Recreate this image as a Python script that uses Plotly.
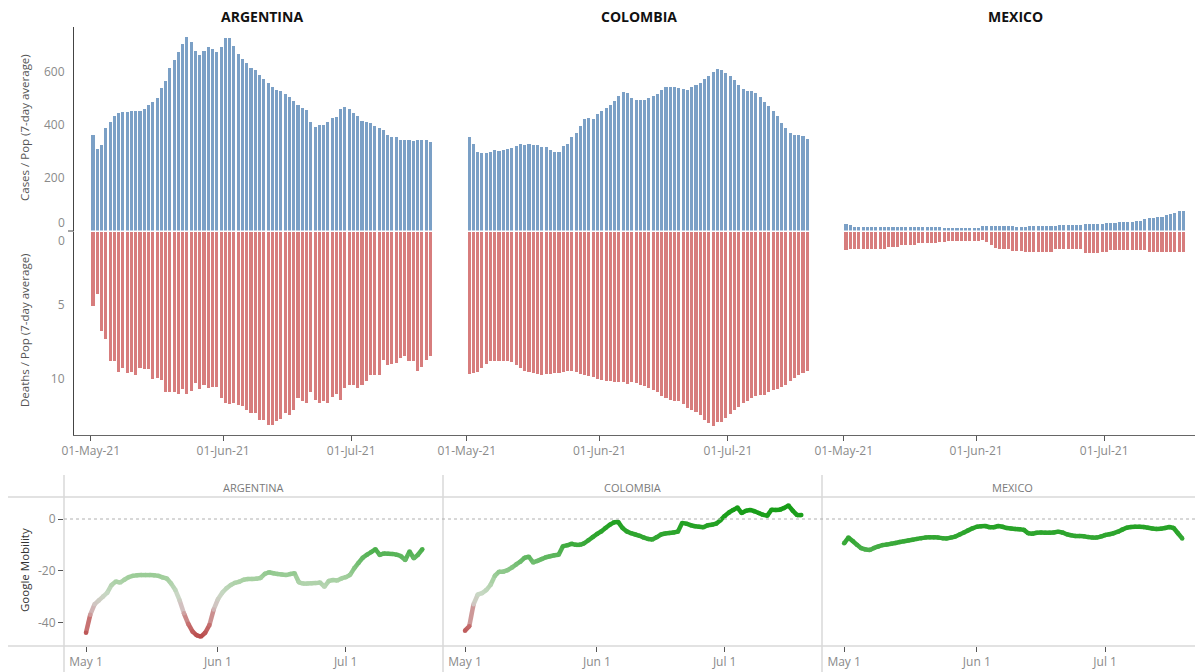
import numpy as np
import pandas as pd
import plotly.graph_objects as go

W, H = 1203, 672
# the page puts the figure 8px in from the top-left corner
OX, OY = 8, 8

# ---- data -----------------------------------------------------------------
countries = ["ARGENTINA", "COLOMBIA", "MEXICO"]
dates = pd.date_range("2021-05-01", periods=80, freq="D")
month_ticks = ["2021-05-01", "2021-06-01", "2021-07-01"]

arg_cases = [362, 306, 321, 385, 411, 431, 443, 447, 447, 450,
             450, 450, 459, 472, 486, 501, 538, 566, 614, 644,
             673, 703, 730, 711, 676, 664, 679, 692, 686, 673,
             692, 726, 726, 696, 668, 649, 634, 615, 604, 585,
             572, 557, 542, 530, 525, 516, 503, 488, 472, 463,
             454, 411, 392, 400, 400, 411, 425, 429, 459, 467,
             457, 442, 431, 414, 409, 404, 396, 386, 381, 360,
             352, 352, 343, 340, 340, 337, 343, 343, 340, 333]
col_cases = [352, 328, 296, 291, 291, 296, 302, 299, 303, 308,
             311, 318, 325, 322, 328, 321, 321, 315, 315, 303,
             298, 298, 318, 328, 352, 369, 394, 421, 425, 421,
             438, 450, 463, 472, 488, 509, 523, 519, 501, 494,
             494, 494, 501, 509, 516, 532, 542, 542, 542, 538,
             535, 532, 542, 548, 557, 570, 582, 598, 610, 604,
             595, 582, 567, 551, 535, 528, 528, 519, 503, 486,
             469, 450, 431, 404, 387, 369, 359, 359, 356, 347]
mex_cases = [26, 20, 14, 14, 14, 14, 14, 14, 14, 14,
             14, 14, 12, 12, 14, 14, 14, 14, 14, 14,
             14, 14, 14, 11, 11, 11, 11, 11, 11, 11,
             11, 11, 16, 16, 16, 16, 16, 16, 16, 16,
             14, 14, 14, 18, 18, 18, 18, 18, 18, 18,
             21, 21, 21, 21, 21, 21, 25, 25, 25, 25,
             25, 29, 29, 29, 33, 33, 33, 33, 37, 37,
             42, 48, 48, 52, 52, 57, 62, 67, 72, 72]

arg_deaths = [5.0, 4.2, 6.75, 7.3, 8.75, 8.75, 9.5, 9.25, 9.6, 9.5,
              9.7, 9.25, 9.35, 9.35, 10.0, 9.9, 10.05, 10.85, 10.85, 10.85,
              11.05, 10.7, 11.05, 10.8, 10.3, 10.7, 10.4, 10.6, 10.55, 10.55,
              11.3, 11.6, 11.7, 11.65, 11.75, 11.8, 12.1, 12.3, 12.3, 12.8,
              12.8, 13.15, 13.1, 12.85, 12.7, 12.3, 12.45, 12.1, 11.3, 11.5,
              11.6, 10.85, 11.4, 11.65, 11.5, 11.65, 11.2, 11.05, 11.4, 10.6,
              10.4, 10.4, 10.6, 10.4, 10.15, 9.75, 9.75, 9.75, 8.7, 9.05,
              9.0, 8.9, 8.55, 8.45, 8.8, 8.8, 9.45, 9.15, 8.7, 8.45]
col_deaths = [9.66, 9.59, 9.52, 9.25, 8.98, 8.8, 8.75, 8.75, 8.75, 8.8,
              8.86, 9.07, 9.25, 9.43, 9.52, 9.59, 9.66, 9.75, 9.66, 9.66,
              9.61, 9.59, 9.52, 9.43, 9.43, 9.52, 9.66, 9.75, 9.82, 9.89,
              9.98, 10.05, 10.11, 10.16, 10.21, 10.21, 10.23, 10.34, 10.21, 10.27,
              10.39, 10.5, 10.61, 10.73, 10.89, 11.18, 11.3, 11.41, 11.48, 11.52,
              11.71, 11.98, 12.09, 12.25, 12.43, 12.77, 12.96, 13.16, 12.93, 12.89,
              12.66, 12.39, 12.09, 11.87, 11.64, 11.46, 11.3, 11.18, 11.11, 11.07,
              10.89, 10.73, 10.66, 10.57, 10.39, 10.16, 9.93, 9.75, 9.59, 9.48]
mex_deaths = [1.25, 1.13, 1.13, 1.13, 1.13, 1.13, 1.13, 1.13, 1.13, 1.13,
              1.02, 1.02, 1.02, 0.86, 0.86, 0.86, 0.86, 0.75, 0.75, 0.75,
              0.75, 0.75, 0.68, 0.68, 0.61, 0.61, 0.61, 0.61, 0.61, 0.61,
              0.61, 0.61, 0.52, 0.68, 0.91, 1.07, 1.13, 1.13, 1.13, 1.29,
              1.29, 1.29, 1.38, 1.38, 1.38, 1.38, 1.38, 1.38, 1.38, 1.13,
              1.13, 1.13, 1.13, 1.13, 1.13, 1.13, 1.43, 1.43, 1.43, 1.43,
              1.36, 1.36, 1.2, 1.2, 1.2, 1.2, 1.2, 1.2, 1.25, 1.25,
              1.25, 1.38, 1.38, 1.38, 1.38, 1.38, 1.38, 1.38, 1.38, 1.38]

arg_mob = [-44, -37, -33, -31.5, -30, -28.5, -25.5, -24.2, -24.6, -23.5,
           -22.5, -22, -21.8, -21.7, -21.7, -21.7, -21.8, -22, -22.6, -23,
           -25, -27.5, -31.5, -36.5, -40.5, -43.5, -45, -45.5, -44, -41,
           -35, -31, -28.5, -26.8, -25.5, -24.7, -24.3, -23.5, -23.2, -23.2,
           -23.1, -22.8, -21.2, -20.6, -21, -21.3, -21.5, -21.7, -21.3, -21,
           -24.5, -25, -25, -24.9, -24.8, -24.6, -26.2, -24, -23.6, -23.8,
           -23, -22.5, -21.7, -19.1, -17, -15, -13.8, -12.8, -11.7, -13.9,
           -13.3, -13.4, -13.5, -13.8, -14.4, -15.9, -12.6, -15.2, -13.8, -11.7]
col_mob = [-43.2, -41.5, -33, -29.2, -28.7, -27.5, -25.5, -22, -20.4, -20.4,
           -19.8, -18.8, -17.6, -16.5, -15, -14.6, -16.8, -16.2, -15.5, -14.8,
           -14.4, -14, -13.8, -10.5, -10.2, -9.6, -10, -10, -9.4, -8.2,
           -7, -5.8, -4.8, -3.5, -2.2, -1.3, -1.2, -3.5, -4.8, -5.5,
           -6, -6.5, -7.2, -7.7, -7.9, -7.1, -6, -5.6, -5.4, -5.2,
           -4.9, -1.5, -1.8, -2.4, -2.8, -3, -3.2, -2.4, -2.2, -1.8,
           -0.5, 1.2, 2.5, 3.5, 4.4, 2.3, 3.2, 3.5, 3, 2.3,
           1.6, 1.3, 3.6, 3.5, 3.6, 4.3, 5.2, 3.2, 1.5, 1.5]
mex_mob = [-9.4, -7.2, -8.5, -10, -11.3, -11.8, -12, -11.2, -10.6, -10.1,
           -9.9, -9.6, -9.3, -8.9, -8.6, -8.3, -8, -7.7, -7.4, -7.2,
           -7.1, -7.1, -7.2, -7.4, -7.5, -7.2, -6.8, -6, -5.2, -4.4,
           -3.6, -3, -2.8, -2.7, -3.2, -3.2, -2.7, -3, -3.5, -3.7,
           -3.9, -4, -4.2, -5.5, -5.7, -5.3, -5.2, -5.3, -5.3, -5.2,
           -4.9, -5.2, -5.9, -6.3, -6.6, -6.6, -6.7, -7, -7.2, -7.2,
           -6.8, -6.2, -5.9, -5.5, -4.9, -4.1, -3.4, -3.1, -3, -3,
           -3.1, -3.4, -3.7, -3.9, -3.8, -3.5, -3.1, -3.5, -5.5, -7.5]

cases = [arg_cases, col_cases, mex_cases]
deaths = [arg_deaths, col_deaths, mex_deaths]
mobility = [arg_mob, col_mob, mex_mob]

# ---- style ------------------------------------------------------------------
FONT = "Open Sans, Noto Sans, sans-serif"
BLUE = "#7ba0c6"
RED = "#d77d7d"
GRID = "#d9d9d9"
TICKC = "#8a8a8a"
DAY = 86400000

stop_v = [-46, -40, -34, -29, -23, -16, -9, 0, 6]
stop_c = [(184, 72, 72), (200, 118, 118), (210, 192, 192), (200, 216, 196),
          (165, 208, 160), (105, 186, 105), (55, 168, 55), (30, 160, 30),
          (22, 156, 22)]


def mob_color(v):
    rgb = [np.interp(v, stop_v, [c[i] for c in stop_c]) for i in range(3)]
    return "rgb(%d,%d,%d)" % tuple(int(round(c)) for c in rgb)


def px(x):
    return (x - OX) / W


def py(y):
    return 1 - (y - OY) / H


may1 = pd.Timestamp("2021-05-01")
top_range = [may1 - pd.Timedelta(days=3.91), may1 + pd.Timedelta(days=84.14)]
bot_range = [may1 - pd.Timedelta(days=5.17), may1 + pd.Timedelta(days=83.86)]

top_dom = [(74, 450), (450, 827), (827, 1203)]
bot_dom = [(64, 443), (443, 822), (822, 1203)]

fig = go.Figure()

bar_w = 0.72 * DAY
bar_off = (0.54 - 0.36) * DAY
for k in range(3):
    xa = "x" if k == 0 else "x%d" % (k + 1)
    fig.add_trace(go.Bar(x=dates, y=cases[k], xaxis=xa, yaxis="y",
                         marker=dict(color=BLUE, line=dict(width=0)),
                         width=bar_w, offset=bar_off, showlegend=False))
    fig.add_trace(go.Bar(x=dates, y=deaths[k], xaxis=xa, yaxis="y2",
                         marker=dict(color=RED, line=dict(width=0)),
                         width=bar_w, offset=bar_off, showlegend=False))

# mobility lines, coloured by value (segment by segment)
for k in range(3):
    xa = "x%d" % (k + 4)
    vals = mobility[k]
    for i in range(len(vals) - 1):
        fig.add_trace(go.Scatter(
            x=dates[i:i + 2], y=vals[i:i + 2], xaxis=xa, yaxis="y3",
            mode="lines", line=dict(color=mob_color((vals[i] + vals[i + 1]) / 2), width=4.5),
            showlegend=False, hoverinfo="skip"))
    fig.add_trace(go.Scatter(
        x=dates, y=vals, xaxis=xa, yaxis="y3", mode="markers",
        marker=dict(size=4.5, color=[mob_color(v) for v in vals], line=dict(width=0)),
        showlegend=False))

layout = dict(
    width=W, height=H,
    margin=dict(l=0, r=0, t=0, b=0, autoexpand=False),
    plot_bgcolor="white", paper_bgcolor="white",
    font=dict(family=FONT, color=TICKC, size=12),
    bargap=0,
)

for k in range(3):
    name = "xaxis" if k == 0 else "xaxis%d" % (k + 1)
    layout[name] = dict(
        domain=[px(top_dom[k][0]), px(top_dom[k][1])], anchor="y2", type="date",
        range=top_range, tickvals=month_ticks, tickformat="%d-%b-%y",
        showline=True, linecolor="#666", linewidth=1,
        ticks="outside", ticklen=5, tickcolor="#555",
        showgrid=False, zeroline=False, tickfont=dict(size=12, color=TICKC))
    layout["xaxis%d" % (k + 4)] = dict(
        domain=[px(bot_dom[k][0]), px(bot_dom[k][1])], anchor="y3", type="date",
        range=bot_range, tickvals=month_ticks, tickformat="%b %-d",
        showline=False, ticks="outside", ticklen=5, tickcolor="#555",
        showgrid=False, zeroline=False, tickfont=dict(size=12, color=TICKC))

layout["yaxis"] = dict(
    domain=[py(230.5), py(27)], anchor="x", range=[0, 768],
    tickvals=[200, 400, 600], showline=True, linecolor="#444", linewidth=1,
    ticks="", ticklabelstandoff=6, showgrid=False, zeroline=False,
    tickfont=dict(size=12, color=TICKC))
layout["yaxis2"] = dict(
    domain=[py(435), py(231.5)], anchor="x", range=[13.84, 0],
    tickvals=[5, 10], showline=True, linecolor="#444", linewidth=1,
    ticks="", ticklabelstandoff=6, showgrid=False, zeroline=False,
    tickfont=dict(size=12, color=TICKC))
layout["yaxis3"] = dict(
    domain=[py(646), py(497)], anchor="x4", range=[-49.13, 8.51],
    tickvals=[0, -20, -40], ticktext=["0", "-20", "-40"],
    ticks="outside", ticklen=5, tickcolor="#555", showline=False,
    showgrid=False, zeroline=False, tickfont=dict(size=12, color=TICKC))

shapes = []
for y in (497, 646):
    shapes.append(dict(type="line", xref="paper", yref="paper", x0=px(6), x1=px(1203),
                       y0=py(y), y1=py(y), line=dict(color=GRID, width=1.5)))
for x in (64, 443, 822):
    shapes.append(dict(type="line", xref="paper", yref="paper", x0=px(x), x1=px(x),
                       y0=py(475), y1=py(672), line=dict(color=GRID, width=1.5)))
shapes.append(dict(type="line", xref="paper", yref="y3", x0=px(64), x1=px(1203), y0=0, y1=0,
                   line=dict(color="#b0b0b0", width=1, dash="dot")))
shapes.append(dict(type="line", xref="paper", yref="paper", x0=px(68), x1=px(74),
                   y0=py(231), y1=py(231), line=dict(color="#444", width=1)))
layout["shapes"] = shapes

ann = []
for k in range(3):
    cx = (top_dom[k][0] + top_dom[k][1]) / 2
    ann.append(dict(text="<b>%s</b>" % countries[k], x=px(cx), y=py(17), xref="paper", yref="paper",
                    showarrow=False, font=dict(size=14, color="#111", family=FONT),
                    xanchor="center", yanchor="middle"))
    bx = (bot_dom[k][0] + bot_dom[k][1]) / 2
    ann.append(dict(text=countries[k], x=px(bx), y=py(487), xref="paper", yref="paper",
                    showarrow=False, font=dict(size=11, color="#7a7a7a", family=FONT),
                    xanchor="center", yanchor="middle"))
ann.append(dict(text="0", x=px(67), y=py(222), xref="paper", yref="paper", showarrow=False,
                xanchor="right", yanchor="middle", font=dict(size=12, color=TICKC)))
ann.append(dict(text="0", x=px(67), y=py(240), xref="paper", yref="paper", showarrow=False,
                xanchor="right", yanchor="middle", font=dict(size=12, color=TICKC)))
for txt, yc, col in (("Cases / Pop (7-day average)", 128, "#555"),
                     ("Deaths / Pop (7-day average)", 330, "#555"),
                     ("Google Mobility", 570, "#333")):
    ann.append(dict(text=txt, x=px(24), y=py(yc), xref="paper", yref="paper", showarrow=False,
                    textangle=-90, xanchor="center", yanchor="middle",
                    font=dict(size=11.5, color=col, family=FONT)))
layout["annotations"] = ann

fig.update_layout(**layout)
fig.write_html("out.html")
